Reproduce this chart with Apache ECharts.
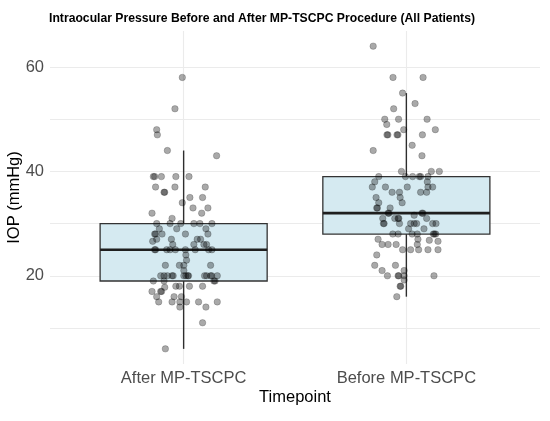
<!DOCTYPE html>
<html>
<head>
<meta charset="utf-8">
<script src="https://cdn.jsdelivr.net/npm/echarts@6/dist/echarts.min.js"></script>
<style>
  html, body { margin: 0; padding: 0; background: #fff; }
  #chart { width: 550px; height: 421px; }
</style>
</head>
<body>
<div id="chart"></div>
<script>
const categories = ["After MP-TSCPC", "Before MP-TSCPC"];
// lower whisker, q1, median, q3, upper whisker
const boxStats = [
  [6, 19, 25, 30, 44],
  [16, 28, 32, 39, 55],
];
const yLabelTicks = [20, 40, 60];
const yGridTicks = [10, 20, 30, 40, 50, 60];

// jittered points: [x position, IOP]
const afterPoints = [
  [0.994, 58], [0.961, 52], [0.879, 48], [0.882, 47], [0.927, 44], [1.148, 43],
  [0.864, 39], [0.870, 39], [0.900, 39], [0.965, 39], [1.024, 39],
  [0.874, 37], [0.961, 37], [1.097, 37], [0.912, 36], [0.915, 36],
  [1.028, 35], [1.085, 35], [0.994, 34], [1.042, 33], [1.109, 33],
  [0.858, 32], [1.081, 32], [0.948, 31],
  [0.879, 30], [0.939, 30], [0.987, 30], [1.046, 30], [1.073, 30], [1.127, 30],
  [0.969, 29], [0.891, 29], [1.100, 29],
  [0.870, 28], [0.874, 28], [0.903, 28], [1.109, 28], [1.008, 28],
  [0.879, 27], [0.861, 26.6], [0.945, 27], [1.061, 27], [1.076, 27],
  [1.046, 26], [0.951, 26], [1.091, 26], [1.103, 26],
  [0.870, 25], [0.874, 25], [0.924, 25], [0.939, 25], [0.963, 25], [1.008, 25],
  [1.052, 25], [1.112, 25], [1.127, 25],
  [1.010, 24], [1.013, 23], [1.001, 22], [0.918, 22], [0.981, 22], [1.121, 22], [1.001, 21],
  [0.897, 20], [0.912, 20], [0.927, 20], [0.948, 20], [0.953, 20], [1.001, 20], [1.010, 20],
  [1.019, 20], [1.022, 20], [1.094, 20], [1.103, 20], [1.121, 20], [1.126, 20], [1.151, 20],
  [1.136, 19], [1.141, 19], [0.864, 19], [0.912, 19],
  [0.965, 18], [0.981, 18], [1.026, 18], [1.085, 18], [0.915, 17.8],
  [0.858, 17], [0.897, 17], [0.901, 17], [0.879, 16], [0.957, 16], [0.990, 16],
  [0.888, 15], [0.948, 15], [0.983, 15], [1.013, 15], [1.067, 15], [1.151, 15],
  [0.983, 14], [1.100, 14], [1.085, 11], [0.918, 6],
];
const beforePoints = [
  [1.851, 64], [1.940, 58], [2.075, 58], [1.983, 55], [2.039, 53], [1.943, 52],
  [1.903, 50], [1.965, 50], [2.093, 50], [1.912, 49], [2.130, 48], [1.988, 48],
  [1.913, 47], [1.917, 47], [1.958, 47], [1.962, 47], [2.072, 47],
  [2.026, 45], [1.851, 44], [2.070, 43], [1.978, 40], [2.112, 40], [2.148, 40],
  [1.876, 39], [1.996, 39], [2.028, 39], [2.058, 39], [2.064, 39], [2.097, 39],
  [1.858, 38], [2.094, 38],
  [1.847, 37], [1.906, 37], [2.004, 37], [2.097, 37], [2.118, 37],
  [1.936, 36], [1.969, 36], [2.064, 36], [2.091, 36],
  [1.864, 35], [1.972, 35], [1.981, 34], [1.876, 34],
  [1.867, 33], [1.870, 33], [1.927, 33],
  [1.918, 32], [1.922, 32], [2.070, 32], [2.074, 32], [2.035, 31.6],
  [1.894, 31], [1.948, 31], [1.963, 31], [1.966, 31], [2.091, 31],
  [1.897, 30], [1.900, 30], [1.969, 30], [2.019, 30], [2.035, 30], [2.046, 30],
  [2.118, 30], [2.133, 30],
  [2.010, 29], [2.079, 29],
  [1.939, 28], [1.963, 28], [2.026, 28], [2.049, 28], [2.121, 28], [2.126, 28], [2.132, 28],
  [1.873, 27], [2.103, 26.8], [2.052, 27],
  [1.891, 26], [1.918, 26], [1.954, 26], [2.049, 26], [2.142, 26.6],
  [1.983, 25], [2.019, 25], [2.097, 25], [2.142, 25], [2.055, 25],
  [1.867, 24], [1.858, 22], [1.951, 22], [1.891, 21], [1.990, 21],
  [1.915, 20], [1.963, 20], [1.966, 20], [1.990, 20], [1.990, 19.2], [2.124, 20],
  [1.972, 18], [1.975, 18], [1.957, 16],
];

const font = "'Liberation Sans', Arial, sans-serif";
const chart = echarts.init(document.getElementById("chart"));

const renderBox = function (params, api) {
  const x = api.value(0);
  const lo = api.coord([x, api.value(1)]);
  const q1 = api.coord([x, api.value(2)]);
  const med = api.coord([x, api.value(3)]);
  const q3 = api.coord([x, api.value(4)]);
  const hi = api.coord([x, api.value(5)]);
  const half = api.size([0.75, 0])[0] / 2;
  const edge = { stroke: "#2e2e2e", lineWidth: 1.4 };
  return {
    type: "group",
    children: [
      { type: "line", shape: { x1: hi[0], y1: hi[1], x2: q3[0], y2: q3[1] }, style: edge },
      { type: "line", shape: { x1: lo[0], y1: lo[1], x2: q1[0], y2: q1[1] }, style: edge },
      {
        type: "rect",
        shape: { x: q3[0] - half, y: q3[1], width: half * 2, height: q1[1] - q3[1] },
        style: { fill: "#d5eaf1", stroke: "#333333", lineWidth: 1.3 },
      },
      {
        type: "line",
        shape: { x1: med[0] - half, y1: med[1], x2: med[0] + half, y2: med[1] },
        style: { stroke: "#1f1f1f", lineWidth: 2.6 },
      },
    ],
  };
};

const pointStyle = {
  color: "rgba(0,0,0,0.42)",
  borderColor: "rgba(0,0,0,0.3)",
  borderWidth: 0.8,
};

chart.setOption({
  animation: false,
  title: {
    text: "Intraocular Pressure Before and After MP-TSCPC Procedure (All Patients)",
    left: 44,
    top: 8,
    textStyle: { fontFamily: font, fontSize: 12.2, fontWeight: "bold", color: "#000" },
  },
  grid: { left: 50, right: 10, top: 31, bottom: 57, outerBoundsMode: "none", containLabel: false },
  xAxis: {
    type: "value",
    min: 0.4,
    max: 2.6,
    name: "Timepoint",
    nameLocation: "middle",
    nameGap: 25,
    nameMoveOverlap: false,
    nameTextStyle: { fontFamily: font, fontSize: 16.5, color: "#000" },
    axisLine: { show: false },
    axisTick: { show: false, customValues: [1, 2] },
    axisLabel: {
      customValues: [1, 2],
      margin: 6,
      fontFamily: font,
      fontSize: 16.5,
      color: "#4d4d4d",
      formatter: (v) => categories[Math.round(v) - 1],
    },
    splitLine: { show: true, lineStyle: { color: "#ebebeb", width: 1.1 } },
  },
  yAxis: {
    type: "value",
    min: 3.1,
    max: 66.9,
    name: "IOP (mmHg)",
    nameLocation: "middle",
    nameGap: 27,
    nameMoveOverlap: false,
    nameTextStyle: { fontFamily: font, fontSize: 16.5, color: "#000" },
    axisLine: { show: false },
    axisTick: { show: false, customValues: yGridTicks },
    axisLabel: {
      customValues: yLabelTicks,
      margin: 6,
      fontFamily: font,
      fontSize: 16.5,
      color: "#4d4d4d",
    },
    splitLine: { show: true, lineStyle: { color: "#ebebeb", width: 1.1 } },
  },
  series: [
    {
      type: "custom",
      renderItem: renderBox,
      encode: { x: 0, y: [1, 2, 3, 4, 5] },
      data: boxStats.map((s, i) => [i + 1].concat(s)),
      z: 2,
    },
    {
      type: "scatter",
      data: afterPoints,
      symbolSize: 6.5,
      itemStyle: pointStyle,
      z: 3,
    },
    {
      type: "scatter",
      data: beforePoints,
      symbolSize: 6.5,
      itemStyle: pointStyle,
      z: 3,
    },
  ],
});
</script>
</body>
</html>
